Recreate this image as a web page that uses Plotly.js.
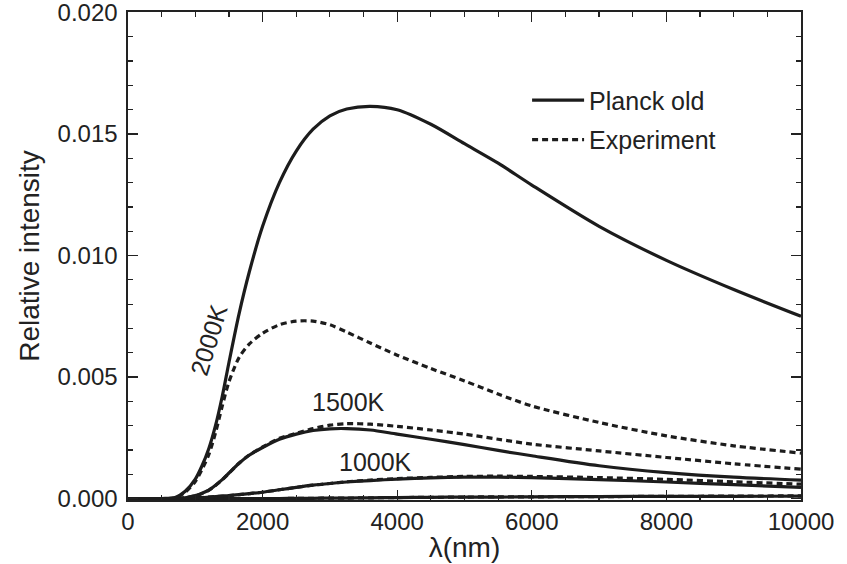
<!DOCTYPE html>
<html>
<head>
<meta charset="utf-8">
<script src="https://cdn.plot.ly/plotly-3.0.1.min.js"></script>
<style>html,body{margin:0;padding:0;background:#fff;}#chart{width:847px;height:564px;}</style>
</head>
<body>
<div id="chart"></div>
<script>
// Wavelength grid (nm)
const wavelength = [0, 500, 700, 850, 1000, 1100, 1200, 1300, 1400, 1500, 1650, 1800, 2000, 2250, 2500, 2750, 3000, 3250, 3600, 4000, 4500, 5000, 5500, 6000, 7000, 8000, 9000, 10000];

// Relative intensity values
const planck2000 = [0, 0, 0.00004, 0.0003, 0.0008, 0.00135, 0.00205, 0.0030, 0.0042, 0.0056, 0.0076, 0.0093, 0.0112, 0.0130, 0.0143, 0.0152, 0.01575, 0.01603, 0.01614, 0.0160, 0.0154, 0.0146, 0.0138, 0.0129, 0.0112, 0.0098, 0.0086, 0.0075];
const exp2000    = [0, 0, 0.00003, 0.00026, 0.0007, 0.0012, 0.0018, 0.0027, 0.0038, 0.0048, 0.0058, 0.00635, 0.0068, 0.00715, 0.0073, 0.0073, 0.00715, 0.00685, 0.0064, 0.0059, 0.00535, 0.00484, 0.0043, 0.00381, 0.00313, 0.00258, 0.00217, 0.00187];
const planck1500 = [0, 0, 0, 0.00003, 0.00012, 0.00022, 0.00035, 0.00055, 0.00078, 0.00105, 0.00145, 0.00178, 0.0021, 0.00244, 0.00265, 0.0028, 0.00287, 0.00288, 0.00282, 0.00265, 0.00244, 0.00222, 0.00198, 0.00176, 0.00135, 0.00107, 0.00088, 0.00076];
const exp1500    = [0, 0, 0, 0.00003, 0.00011, 0.00021, 0.00034, 0.00054, 0.00077, 0.00104, 0.00145, 0.00179, 0.00212, 0.00248, 0.00268, 0.00288, 0.00302, 0.00308, 0.00306, 0.00297, 0.00282, 0.00265, 0.00244, 0.00224, 0.00196, 0.00169, 0.00143, 0.00121];
const planck1000 = [0, 0, 0, 0.00001, 0.00003, 0.00004, 0.00006, 0.00008, 0.0001, 0.00012, 0.00016, 0.0002, 0.00026, 0.00036, 0.00046, 0.00055, 0.00062, 0.00068, 0.00074, 0.0008, 0.00085, 0.00088, 0.00088, 0.00086, 0.00078, 0.00068, 0.00057, 0.00046];
const exp1000    = [0, 0, 0, 0.00001, 0.00003, 0.00004, 0.00006, 0.00008, 0.0001, 0.00012, 0.00016, 0.0002, 0.00026, 0.00036, 0.00046, 0.00055, 0.00062, 0.00069, 0.00076, 0.00082, 0.00087, 0.00091, 0.00092, 0.00091, 0.00086, 0.00079, 0.00069, 0.00059];
const planck500  = [0, 0, 0, 0, 0, 0, 0, 0, 0, 0, 0, 0, 0, 0, 0.00001, 0.00001, 0.00002, 0.00002, 0.00003, 0.00004, 0.00005, 0.00006, 0.00006, 0.00007, 0.00008, 0.00009, 0.00009, 0.0001];
const exp500     = [0, 0, 0, 0, 0, 0, 0, 0, 0, 0, 0, 0, 0, 0, 0.00001, 0.00001, 0.00002, 0.00002, 0.00003, 0.00004, 0.00005, 0.00006, 0.00007, 0.00007, 0.00008, 0.00009, 0.0001, 0.00011];

const legendNames = ["Planck old", "Experiment"];
const xTickVals = [0, 2000, 4000, 6000, 8000, 10000];
const yTickVals = [0, 0.005, 0.010, 0.015, 0.020];
const tempLabels = ["2000K", "1500K", "1000K"];
const tempLabelX = [1195, 3280, 3680];
const tempLabelY = [0.00654, 0.00396, 0.0015];

const lineColor = "#1c1c1c";
const solidLine = {color: lineColor, width: 3.2, shape: "spline", smoothing: 0.8};
const dashLine = {color: lineColor, width: 3.2, dash: "6px,4px", shape: "spline", smoothing: 0.8};

function tr(y, isExp, show) {
  return {
    x: wavelength, y: y, type: "scatter", mode: "lines",
    line: isExp ? dashLine : solidLine,
    name: isExp ? legendNames[1] : legendNames[0],
    legendgroup: isExp ? "exp" : "planck",
    showlegend: show, hoverinfo: "skip"
  };
}

const data = [
  tr(planck500, false, false), tr(exp500, true, false),
  tr(planck1000, false, false), tr(exp1000, true, false),
  tr(exp1500, true, false), tr(planck1500, false, false),
  tr(exp2000, true, false), tr(planck2000, false, false),
  Object.assign(tr(planck2000, false, true), {x: [null], y: [null]}),
  Object.assign(tr(exp2000, true, true), {x: [null], y: [null]})
];

const fam = "Liberation Sans, Arial, Helvetica, sans-serif";
const font = {family: fam, size: 24, color: "#222"};
const bigFont = {family: fam, size: 25, color: "#222"};
const titleFont = {family: fam, size: 28, color: "#222"};

const annotations = tempLabels.map((t, i) => ({
  x: tempLabelX[i], y: tempLabelY[i], xref: "x", yref: "y",
  text: t, showarrow: false, font: bigFont,
  textangle: i === 0 ? -73 : 0
}));

const layout = {
  width: 847, height: 564,
  margin: {l: 128, r: 46, t: 12, b: 64, pad: 0},
  paper_bgcolor: "#fff", plot_bgcolor: "#fff",
  font: font,
  showlegend: true,
  legend: {
    x: 0.593, y: 0.866, xanchor: "left", yanchor: "top",
    bgcolor: "rgba(0,0,0,0)", borderwidth: 0,
    font: bigFont, traceorder: "grouped", tracegroupgap: 4,
    itemwidth: 52
  },
  xaxis: {
    range: [0, 10000], tickvals: xTickVals, tickformat: "d",
    ticks: "inside", ticklen: 10, tickwidth: 1.3, tickcolor: "#222",
    minor: {dtick: 500, ticks: "inside", ticklen: 5, tickwidth: 1.2, tickcolor: "#222"},
    showline: true, linecolor: "#222", linewidth: 1.6, mirror: "ticks",
    showgrid: false, zeroline: false,
    ticklabeloverflow: "allow",
    title: {text: "λ(nm)", font: titleFont, standoff: 3},
    tickfont: font
  },
  yaxis: {
    range: [-0.00006, 0.02002], tickvals: yTickVals, tickformat: ".3f",
    ticks: "inside", ticklen: 10, tickwidth: 1.3, tickcolor: "#222",
    minor: {dtick: 0.001, ticks: "inside", ticklen: 5, tickwidth: 1.2, tickcolor: "#222"},
    showline: true, linecolor: "#222", linewidth: 1.6, mirror: "ticks",
    showgrid: false, zeroline: false,
    ticklabelstandoff: 4,
    ticklabeloverflow: "allow",
    title: {text: "Relative intensity", font: titleFont, standoff: 10},
    tickfont: font
  },
  annotations: annotations
};

Plotly.newPlot("chart", data, layout, {staticPlot: true, displayModeBar: false});
</script>
</body>
</html>
